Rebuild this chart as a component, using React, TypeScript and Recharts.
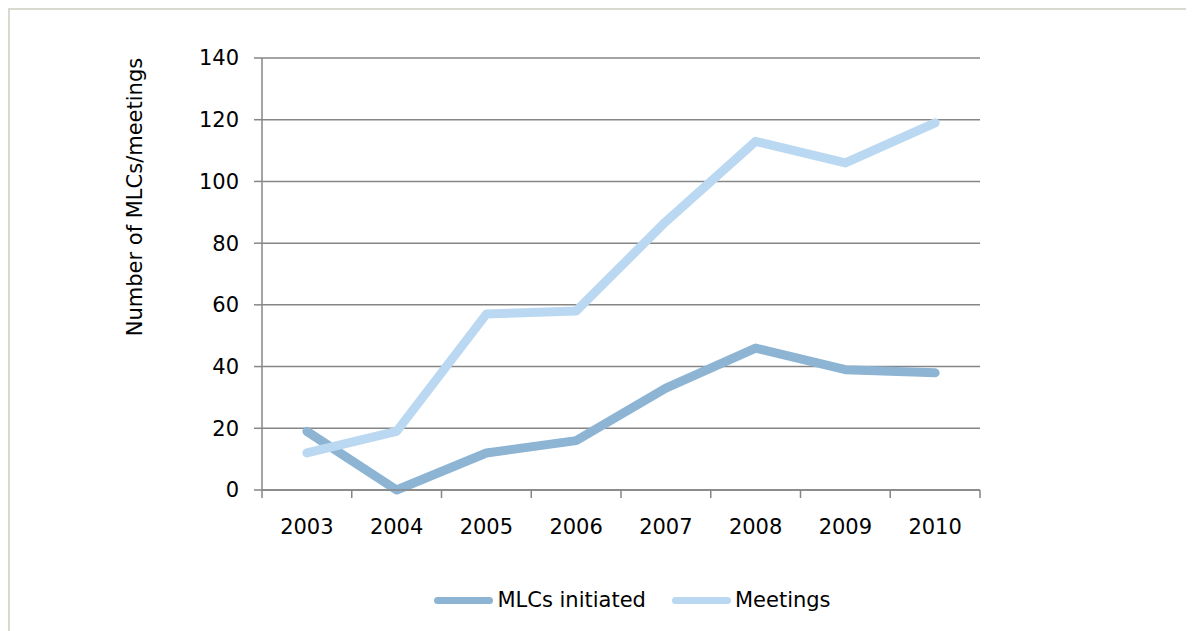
import React from "react";
import {
  LineChart,
  Line,
  XAxis,
  YAxis,
  CartesianGrid,
  Legend,
} from "recharts";

const years = ["2003", "2004", "2005", "2006", "2007", "2008", "2009", "2010"];
const mlcsInitiated = [19, 0, 12, 16, 33, 46, 39, 38];
const meetings = [12, 19, 57, 58, 87, 113, 106, 119];
const yTicks = [0, 20, 40, 60, 80, 100, 120, 140];

const FONT = "'DejaVu Sans', Verdana, sans-serif";
const FS = 21;
const AXIS = "#868686";
const MLC_COLOR = "#8DB4D3";
const MEET_COLOR = "#BAD8F1";

// points sit in the middle of each year band, ticks on the band edges
const data = years.map((year, i) => ({
  year,
  x: i + 0.5,
  mlc: mlcsInitiated[i],
  meetings: meetings[i],
}));
const xTicks = Array.from({ length: years.length * 2 + 1 }, (_, i) => i / 2);

const XTick = (props: any) => {
  const { x, y, payload } = props;
  const v = payload.value as number;
  if (Number.isInteger(v)) {
    return <line x1={x} y1={y} x2={x} y2={y + 8} stroke={AXIS} strokeWidth={1.5} />;
  }
  return (
    <text
      x={x}
      y={y + 37}
      textAnchor="middle"
      dominantBaseline="central"
      fontFamily={FONT}
      fontSize={FS}
      fill="#000"
    >
      {years[Math.floor(v)]}
    </text>
  );
};

const YTitle = (props: any) => {
  const { viewBox } = props;
  const cx = viewBox.x + 125;
  const cy = viewBox.y + 139;
  return (
    <text
      x={cx}
      y={cy}
      transform={`rotate(-90, ${cx}, ${cy})`}
      textAnchor="middle"
      dominantBaseline="central"
      fontFamily={FONT}
      fontSize={FS}
      fill="#000"
    >
      Number of MLCs/meetings
    </text>
  );
};

const legendItems = [
  { name: "MLCs initiated", color: MLC_COLOR },
  { name: "Meetings", color: MEET_COLOR },
];

const LegendContent = () => (
  <div
    style={{
      display: "flex",
      justifyContent: "center",
      alignItems: "center",
      height: 30,
      paddingLeft: 61,
      fontFamily: FONT,
      fontSize: FS,
      color: "#000",
    }}
  >
    {legendItems.map((it, i) => (
      <div
        key={it.name}
        style={{ display: "flex", alignItems: "center", marginLeft: i ? 26 : 0 }}
      >
        <div
          style={{
            width: 59,
            height: 7,
            borderRadius: 4,
            background: it.color,
            marginRight: 4,
          }}
        />
        <span>{it.name}</span>
      </div>
    ))}
  </div>
);

export default function App() {
  return (
    <div
      style={{
        width: 1186,
        height: 623,
        boxSizing: "border-box",
        borderLeft: "2px solid #d9d9d0",
        borderTop: "2px solid #d9d9d0",
        background: "#fff",
        overflow: "hidden",
      }}
    >
      <LineChart
        width={1184}
        height={621}
        data={data}
        margin={{ top: 48, right: 214, left: 0, bottom: 10 }}
      >
        <CartesianGrid vertical={false} stroke={AXIS} strokeWidth={1.5} />
        <XAxis
          type="number"
          dataKey="x"
          domain={[0, 8]}
          ticks={xTicks}
          interval={0}
          tickSize={0}
          tickMargin={0}
          tickLine={false}
          tick={<XTick />}
          axisLine={{ stroke: AXIS, strokeWidth: 1.5 }}
          height={101}
        />
        <YAxis
          domain={[0, 140]}
          ticks={yTicks}
          interval={0}
          width={252}
          tickSize={8}
          tickMargin={15}
          tickLine={{ stroke: AXIS, strokeWidth: 1.5 }}
          axisLine={{ stroke: AXIS, strokeWidth: 1.5 }}
          tick={{ fontFamily: FONT, fontSize: FS, fill: "#000" }}
          label={{ content: <YTitle /> }}
        />
        <Legend
          verticalAlign="bottom"
          content={<LegendContent />}
          wrapperStyle={{ left: 0, width: 1184, top: 575 }}
        />
        <Line
          type="linear"
          dataKey="mlc"
          name="MLCs initiated"
          stroke={MLC_COLOR}
          strokeWidth={9}
          strokeLinecap="round"
          strokeLinejoin="round"
          dot={false}
          isAnimationActive={false}
        />
        <Line
          type="linear"
          dataKey="meetings"
          name="Meetings"
          stroke={MEET_COLOR}
          strokeWidth={9}
          strokeLinecap="round"
          strokeLinejoin="round"
          dot={false}
          isAnimationActive={false}
        />
      </LineChart>
    </div>
  );
}
